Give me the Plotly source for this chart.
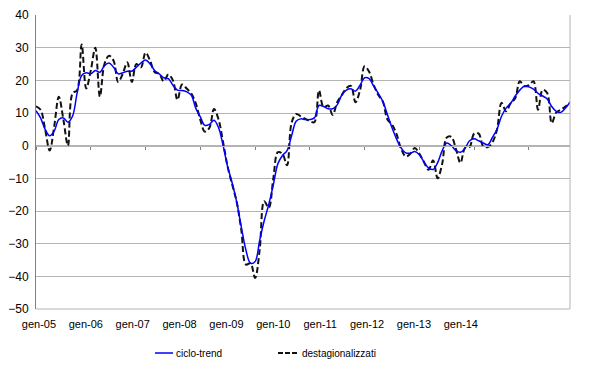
import plotly.graph_objects as go
import pandas as pd

# ---- data (monthly, Jan 2005 - Oct 2014) ----
months = pd.date_range("2005-01-01", periods=118, freq="MS").strftime("%b-%y").tolist()

ciclo_trend = [
    10.7, 8.5, 5.0, 3.0, 4.5, 8.0, 8.5, 7.2, 9.0, 16.0,
    21.5, 22.3, 22.0, 23.0, 22.5, 24.5, 25.3, 24.0, 22.0, 22.3,
    22.8, 22.8, 24.0, 25.3, 26.2, 25.0, 23.0, 22.0, 20.8, 20.5,
    18.5, 17.0, 16.9, 16.5, 15.5, 11.5, 8.8, 6.2, 6.5, 7.8,
    5.5, 0.0, -6.5, -11.5, -17.4, -25.0, -32.0, -36.0, -35.5, -29.0,
    -23.0, -18.0, -12.0, -5.5, -3.0, -1.5, 3.0, 7.5, 8.2, 8.0,
    8.0, 8.5, 12.3, 12.0, 11.3, 11.3, 12.5, 15.5, 17.0, 17.4,
    16.7, 18.5, 20.8, 20.5, 18.2, 16.0, 13.5, 9.5, 5.5, 2.0,
    -0.7, -2.2, -2.3, -1.8, -2.8, -5.0, -6.8, -7.3, -5.2, -1.5,
    0.8, 0.0, -1.5, -2.0, -0.8, 1.5, 2.1, 1.5, 0.8, 0.3,
    2.5, 5.0, 9.0, 11.5, 13.0, 15.2, 17.0, 18.2, 18.0, 17.3,
    16.0, 15.2, 14.3, 12.0, 10.5, 10.2, 11.5, 13.3,
]

destagionalizzati = [
    12.0, 11.0, 5.0, -1.5, 6.0, 15.0, 8.0, 0.0, 16.0, 17.0,
    31.0, 17.5, 23.0, 30.0, 15.0, 25.0, 27.5, 26.0, 19.5, 22.0,
    25.5, 19.5, 25.0, 24.0, 28.5, 26.0, 22.5, 22.0, 19.7, 21.8,
    20.0, 14.0, 18.7, 17.5, 16.0, 13.0, 7.9, 4.3, 5.5, 11.2,
    8.0, 1.0, -6.5, -12.0, -17.4, -26.0, -36.4, -36.0, -40.5, -32.0,
    -17.0, -19.0, -10.0, -2.0, -2.5, -6.0, 7.0, 9.7, 9.0, 8.2,
    7.5, 7.2, 16.9, 11.8, 12.3, 9.4, 13.3, 15.5, 17.6, 18.3,
    13.3, 17.0, 24.3, 22.6, 18.5, 15.5, 13.5, 8.0, 6.5, 3.5,
    -1.0, -3.3, -2.5, -0.7, -2.5, -5.0, -7.4, -4.5, -10.0, -5.5,
    2.5, 2.7, -1.0, -5.3, -0.7, -0.4, 3.7, 3.7, -0.2, -0.4,
    1.0, 4.9, 13.1, 10.5, 13.0, 14.5, 19.7, 18.2, 18.5, 19.7,
    11.0, 17.1, 16.1, 6.9, 10.2, 11.0, 12.0, 13.3,
]

tick_labels = ["gen-05", "gen-06", "gen-07", "gen-08", "gen-09",
               "gen-10", "gen-11", "gen-12", "gen-13", "gen-14"]
y_ticks = list(range(-50, 41, 10))
series_names = ["ciclo-trend", "destagionalizzati"]

# ---- figure ----
# The page body has an 8px margin, so the figure is 8px smaller and the
# margins are reduced by 8px to land the plot where the reference has it.
OFF = 8
W, H = 600 - OFF, 365 - OFF
PL, PT, PR, PB = 36, 15, 570, 309          # plot area in window pixels
PW, PH = PR - PL, PB - PT
ML, MT = PL - OFF, PT - OFF
MR, MB = W - ML - PW, H - MT - PH
idx = list(range(len(months)))
FONT = "Liberation Sans, Arial, sans-serif"
GRID = "#b4b4b4"

fig = go.Figure()
fig.add_trace(go.Scatter(
    x=idx, y=destagionalizzati, name=series_names[1], mode="lines",
    line=dict(color="#111111", width=2, dash="6px,3px", shape="spline", smoothing=1.0),
    text=months, hovertemplate="%{text}: %{y}<extra></extra>", showlegend=False,
))
fig.add_trace(go.Scatter(
    x=idx, y=ciclo_trend, name=series_names[0], mode="lines",
    line=dict(color="#0000ff", width=1.5, shape="spline", smoothing=1.0),
    text=months, hovertemplate="%{text}: %{y}<extra></extra>", showlegend=False,
))
# invisible trace to activate the label axis
fig.add_trace(go.Scatter(x=[0], y=[None], xaxis="x2", showlegend=False, hoverinfo="skip"))

ymin, ymax = -50, 40
zero_pos = (0 - ymin) / (ymax - ymin)
LBL0, LBLSTEP = 33, 47.4                   # label centres in window pixels

fig.update_layout(
    width=W, height=H,
    margin=dict(l=ML, r=MR, t=MT, b=MB, autoexpand=False),
    paper_bgcolor="white", plot_bgcolor="white",
    font=dict(family=FONT, size=12, color="#000000"),
    showlegend=False,
    xaxis=dict(
        range=[0, len(months) - 1], tickmode="array",
        tickvals=list(range(0, len(months), 12)),
        showticklabels=False, ticks="outside", ticklen=3, tickcolor="#808080",
        showgrid=False, zeroline=False, showline=True, linecolor=GRID, linewidth=1,
        anchor="free", position=zero_pos, automargin=False,
    ),
    xaxis2=dict(
        overlaying="x", anchor="y", side="bottom",
        range=[(PL - LBL0) / -LBLSTEP, (PR - LBL0) / LBLSTEP],
        tickmode="array", tickvals=list(range(len(tick_labels))), ticktext=tick_labels,
        ticks="", showgrid=False, zeroline=False, showline=False, automargin=False,
        ticklabelstandoff=7,
        tickfont=dict(family=FONT, size=11, color="#000000"),
    ),
    yaxis=dict(
        range=[ymin, ymax], tickmode="array", tickvals=y_ticks,
        showgrid=True, gridcolor=GRID, gridwidth=1, zeroline=False,
        showline=True, linecolor="#808080", linewidth=1,
        ticks="", ticklabelstandoff=4, automargin=False,
        tickfont=dict(family=FONT, size=12, color="#000000"),
    ),
)

# plot-area frame (right and bottom)
fig.add_shape(type="line", xref="paper", yref="paper", x0=1, x1=1, y0=0, y1=1,
              line=dict(color=GRID, width=1))
fig.add_shape(type="line", xref="paper", yref="paper", x0=0, x1=1, y0=0, y1=0,
              line=dict(color=GRID, width=1))

# manual legend (positions in window pixels)
def px(x):
    return (x - PL) / PW
def py(y):
    return (PB - y) / PH
ly = py(353)
fig.add_shape(type="line", xref="paper", yref="paper", x0=px(155), x1=px(173), y0=ly, y1=ly,
              line=dict(color="#0000ff", width=1.5))
fig.add_shape(type="line", xref="paper", yref="paper", x0=px(278), x1=px(297), y0=ly, y1=ly,
              line=dict(color="#111111", width=2, dash="5px,2px"))
fig.add_annotation(xref="paper", yref="paper", x=px(174), y=ly, text=series_names[0],
                   showarrow=False, xanchor="left", yanchor="middle",
                   font=dict(family=FONT, size=10, color="#000000"))
fig.add_annotation(xref="paper", yref="paper", x=px(300), y=ly, text=series_names[1],
                   showarrow=False, xanchor="left", yanchor="middle",
                   font=dict(family=FONT, size=10, color="#000000"))

fig.write_html("out.html")
